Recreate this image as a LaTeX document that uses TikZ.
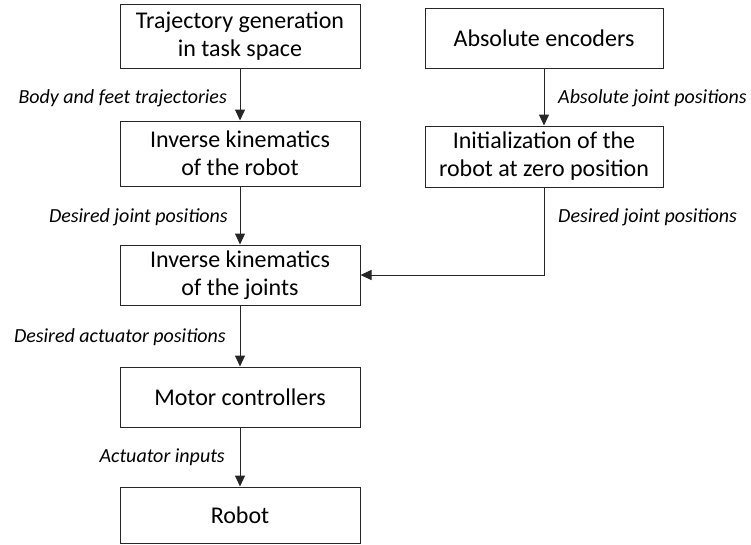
\documentclass[tikz,border=0pt]{standalone}
\usepackage{fontspec}
\setmainfont{Carlito}
\usetikzlibrary{arrows.meta}
\begin{document}
\begin{tikzpicture}[x=1pt,y=-1pt,
  block/.style={draw=black!85, line width=1pt, fill=white, minimum width=240pt,
    align=center, inner sep=0pt, font=\fontsize{24}{28}\selectfont},
  flow/.style={draw=black!85, line width=1pt, -{Triangle[width=10pt,length=11pt]}},
  lbl/.style={inner sep=0pt, font=\itshape\fontsize{20}{24}\selectfont}]
\useasboundingbox (0,0) rectangle (751,544);
% left chain
\node[block, minimum height=64pt] (traj) at (240,36) {Trajectory generation\\in task space};
\node[block, minimum height=65pt] (ikrobot) at (240,153.5) {Inverse kinematics\\of the robot};
\node[block, minimum height=60pt] (ikjoints) at (240,275) {Inverse kinematics\\of the joints};
\node[block, minimum height=60pt] (motor) at (240,397) {Motor controllers};
\node[block, minimum height=56pt] (robot) at (240,515) {Robot};
% right chain
\node[block, minimum width=238pt, minimum height=60pt] (enc) at (544,38) {Absolute encoders};
\node[block, minimum width=238pt, minimum height=61pt] (init) at (544,156.5) {Initialization of the\\robot at zero position};
% connectors
\draw[flow] (traj) -- (ikrobot);
\draw[flow] (ikrobot) -- (ikjoints);
\draw[flow] (ikjoints) -- (motor);
\draw[flow] (motor) -- (robot);
\draw[flow] (enc) -- (init);
\draw[flow] (init.south) -- (init.south |- ikjoints.east) -- (ikjoints.east);
% signal labels
\node[lbl, anchor=east] (l1) at (227,98) {Body and feet trajectories};
\node[lbl, anchor=east] (l2) at (228,217) {Desired joint positions};
\node[lbl, anchor=east] (l3) at (226,337) {Desired actuator positions};
\node[lbl, anchor=east] (l4) at (225,457) {Actuator inputs};
\node[lbl, anchor=west] (l5) at (558,98) {Absolute joint positions};
\node[lbl, anchor=west] (l6) at (558,217) {Desired joint positions};
\end{tikzpicture}
\end{document}
